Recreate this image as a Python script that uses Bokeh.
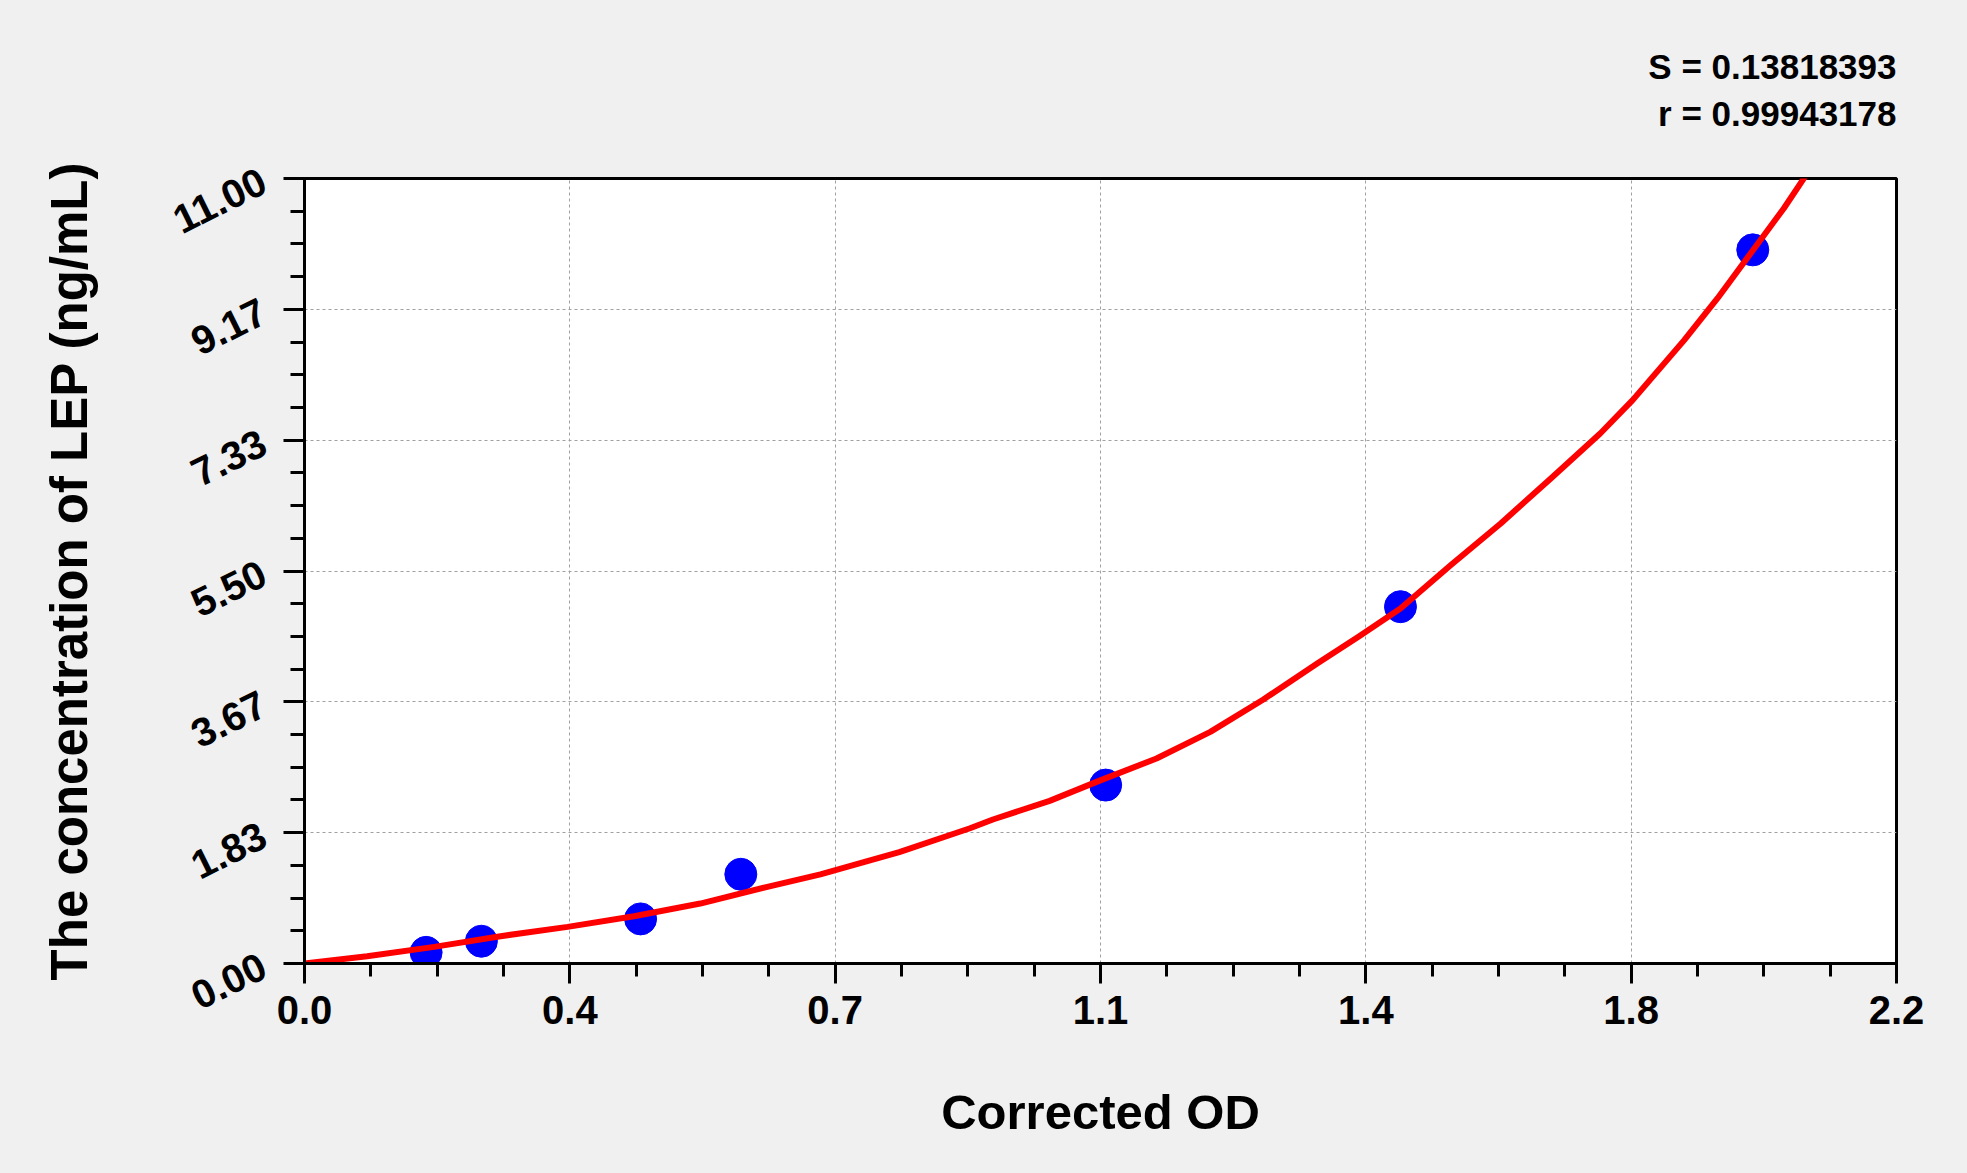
from bokeh.plotting import figure
from bokeh.models import FixedTicker, Title
from bokeh.embed import file_html
from bokeh.resources import INLINE

# standard points (corrected OD vs concentration)
od = [0.165, 0.240, 0.456, 0.592, 1.087, 1.487, 1.965]
conc = [0.156, 0.312, 0.625, 1.25, 2.5, 5.0, 10.0]

# fitted curve
curve_od = [0.0, 0.085, 0.176, 0.266, 0.357, 0.447, 0.537, 0.628, 0.700,
            0.807, 0.903, 0.934, 1.011, 1.078, 1.156, 1.229, 1.301, 1.374,
            1.431, 1.487, 1.555, 1.623, 1.691, 1.758, 1.802, 1.872, 1.917,
            1.962, 2.007, 2.040]
curve_conc = [0.0, 0.102, 0.233, 0.383, 0.513, 0.663, 0.84, 1.074, 1.25,
              1.56, 1.895, 2.018, 2.279, 2.559, 2.873, 3.246, 3.70, 4.204,
              4.587, 4.975, 5.58, 6.166, 6.797, 7.427, 7.894, 8.735, 9.319,
              9.95, 10.58, 11.09]

x_ticks = [0.0, 0.36, 0.72, 1.08, 1.44, 1.80, 2.16]
x_tick_labels = ["0.0", "0.4", "0.7", "1.1", "1.4", "1.8", "2.2"]
y_ticks = [0.0, 1.83, 3.67, 5.50, 7.33, 9.17, 11.0]
y_tick_labels = ["0.00", "1.83", "3.67", "5.50", "7.33", "9.17", "11.00"]

fit_s = "S = 0.13818393"
fit_r = "r = 0.99943178"

FONT = "Liberation Sans"
BG = "#f0f0f0"


def make_plot():
    p = figure(
        width=1967,
        height=1173,
        x_range=(0, 2.16),
        y_range=(0, 11.0),
        output_backend="svg",
        toolbar_location=None,
        x_axis_label="Corrected OD",
        y_axis_label="The concentration of LEP (ng/mL)",
        min_border_left=304,
        min_border_right=71,
        min_border_top=178,
        min_border_bottom=210,
    )
    p.background_fill_color = "white"
    p.border_fill_color = BG
    p.outline_line_color = "black"
    p.outline_line_width = 3

    x_minor = [i * 0.09 for i in range(25)]
    y_minor = [i * 11.0 / 24 for i in range(25)]
    p.xaxis.ticker = FixedTicker(ticks=x_ticks, minor_ticks=x_minor)
    p.yaxis.ticker = FixedTicker(ticks=y_ticks, minor_ticks=y_minor)
    p.xaxis.major_label_overrides = dict(zip(x_ticks, x_tick_labels))
    p.yaxis.major_label_overrides = dict(zip(y_ticks, y_tick_labels))
    p.yaxis.major_label_orientation = 0.46

    for ax in (p.xaxis, p.yaxis):
        ax.axis_line_width = 3
        ax.axis_line_color = "black"
        ax.major_tick_line_width = 3
        ax.minor_tick_line_width = 3
        ax.major_tick_line_color = "black"
        ax.minor_tick_line_color = "black"
        ax.major_tick_in = 0
        ax.minor_tick_in = 0
        ax.major_label_text_font = FONT
        ax.major_label_text_font_style = "bold"
        ax.major_label_text_font_size = "40px"
        ax.major_label_text_color = "black"
        ax.axis_label_text_font = FONT
        ax.axis_label_text_font_style = "bold"
        ax.axis_label_text_color = "black"
    p.xaxis.major_tick_out = 20
    p.xaxis.minor_tick_out = 13
    p.yaxis.major_tick_out = 21
    p.yaxis.minor_tick_out = 14
    p.xaxis.major_label_standoff = 12
    p.yaxis.major_label_standoff = 20
    p.xaxis.axis_label_text_font_size = "49px"
    p.yaxis.axis_label_text_font_size = "51px"
    p.xaxis.axis_label_standoff = 58
    p.yaxis.axis_label_standoff = 62

    p.grid.grid_line_color = "#a0a0a0"
    p.grid.grid_line_width = 1
    p.grid.grid_line_dash = "3 3"

    p.scatter(od, conc, size=32, color="#0000ff")
    p.line(curve_od, curve_conc, color="#ff0000", line_width=6,
           line_cap="round", line_join="round")

    # blank title keeps a gap between the frame and the fit statistics
    p.add_layout(Title(text=" ", text_font=FONT, text_font_size="34px",
                       standoff=2.5), "above")
    # fit statistics, right aligned above the plot area
    p.add_layout(Title(text=fit_r, align="right", text_font=FONT,
                       text_font_style="bold", text_font_size="35px",
                       text_color="black", standoff=6), "above")
    p.add_layout(Title(text=fit_s, align="right", text_font=FONT,
                       text_font_style="bold", text_font_size="35px",
                       text_color="black", standoff=6), "above")
    return p


p = make_plot()
html = file_html(p, INLINE)
html = html.replace("<body>", '<body style="background:%s">' % BG)
open("out.html", "w").write(html)
